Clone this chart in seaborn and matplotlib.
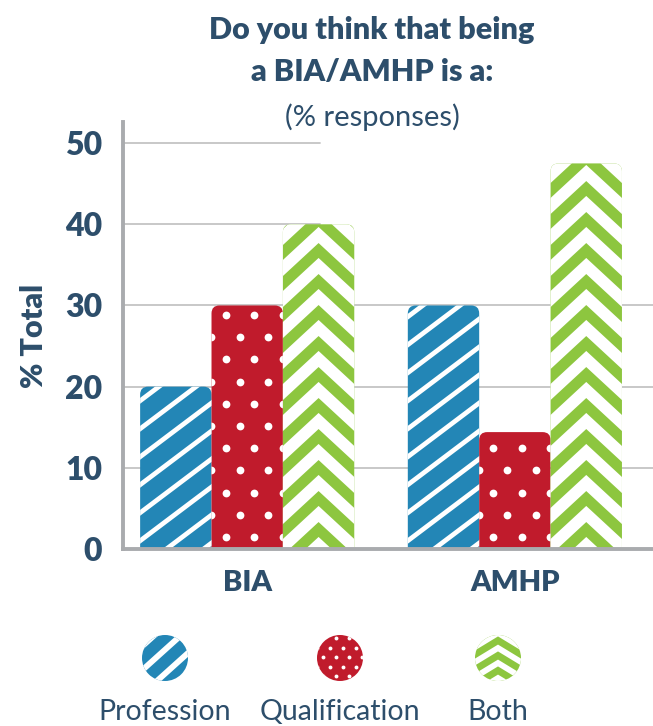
import numpy as np
import pandas as pd
import matplotlib
matplotlib.use('agg')
import matplotlib.pyplot as plt
import seaborn as sns
from matplotlib.collections import LineCollection
from matplotlib.lines import Line2D
from matplotlib.patches import PathPatch, Circle
from matplotlib.path import Path
from matplotlib.transforms import IdentityTransform

# data
roles = ['BIA', 'AMHP']
answers = ['Profession', 'Qualification', 'Both']
profession = [20, 30]
qualification = [30, 14.4]
both = [40, 47.5]
yticks = [0, 10, 20, 30, 40, 50]

colors = ['#2386b6', '#c01b2c', '#8dc63f']
txt = '#2d4e6b'
grid_c = '#c4c4c4'
spine_c = '#a9abae'

df = pd.DataFrame({
    'role': roles * 3,
    'answer': np.repeat(answers, len(roles)),
    'pct': profession + qualification + both,
})

sns.set_theme(style='white')
plt.rcParams['font.family'] = ['Lato', 'DejaVu Sans']

W, H = 653, 726
fig = plt.figure(figsize=(W / 100, H / 100), dpi=100)
ax = fig.add_axes([123 / W, 177 / H, 530 / W, 427 / H])

sns.barplot(data=df, x='role', y='pct', hue='answer', palette=colors,
            saturation=1, width=0.8, legend=False, ax=ax)
ax.set_xlim(-0.464, 1.516)
ax.set_ylim(0, 52.6)


# ---- texture helpers (work in display pixels) ----
def add_segs(a, clip, segs, lw):
    lc = LineCollection(segs, colors='white', linewidths=lw, capstyle='butt',
                        joinstyle='miter', transform=IdentityTransform(), zorder=3)
    lc.set_clip_path(clip)
    a.add_artist(lc)


def stripes(a, clip, x0, y0, x1, y1, period, angle, lw, phase=0):
    t = np.tan(np.radians(angle))
    w = x1 - x0
    segs = [[(x0 - 3, c - 3 * t), (x1 + 3, c + t * (w + 3))]
            for c in np.arange(y0 - t * w - period + phase, y1 + period, period)]
    add_segs(a, clip, segs, lw)


def dots(a, clip, x0, y0, x1, y1, dx, dy, ms, offx, offy):
    xs, ys = [], []
    for k, y in enumerate(np.arange(y0 + offy, y1 + dy, dy)):
        sh = 0 if k % 2 == 0 else dx / 2
        for x in np.arange(x0 + offx + sh - 2 * dx, x1 + dx, dx):
            xs.append(x)
            ys.append(y)
    ln = Line2D(xs, ys, ls='none', marker='o', ms=ms, mfc='white', mec='none',
                transform=IdentityTransform(), zorder=3)
    ln.set_clip_path(clip)
    a.add_artist(ln)


def chevrons(a, clip, x0, y0, x1, y1, period, rise, lw, phase=0):
    cx = (x0 + x1) / 2
    hw = (x1 - x0) / 2
    s = rise / hw
    ext = hw + 6
    segs = [[(cx - ext, ya - s * ext), (cx, ya), (cx + ext, ya - s * ext)]
            for ya in np.arange(y0 + phase - period, y1 + rise + period, period)]
    add_segs(a, clip, segs, lw)


# ---- rounded, textured bars ----
o = ax.transData.transform((0, 0))
sx = ax.transData.transform((1, 0))[0] - o[0]
sy = ax.transData.transform((0, 1))[1] - o[1]
r = 8
rx, ry = r / sx, r / sy

bars = list(ax.patches)
for i, bar in enumerate(bars):
    kind = i // len(roles)
    x, w, h = bar.get_x(), bar.get_width(), bar.get_height()
    verts = [(x, 0), (x, h - ry), (x, h), (x + rx, h), (x + w - rx, h),
             (x + w, h), (x + w, h - ry), (x + w, 0), (x, 0)]
    codes = [Path.MOVETO, Path.LINETO, Path.CURVE3, Path.CURVE3, Path.LINETO,
             Path.CURVE3, Path.CURVE3, Path.LINETO, Path.CLOSEPOLY]
    pp = PathPatch(Path(verts, codes), facecolor=bar.get_facecolor(),
                   edgecolor='none', zorder=2)
    ax.add_patch(pp)
    bar.set_visible(False)
    px0, py0 = ax.transData.transform((x, 0))
    px1, py1 = ax.transData.transform((x + w, h))
    if kind == 0:
        stripes(ax, pp, px0, py0, px1, py1, 28, 37, 3.4, phase=6)
    elif kind == 1:
        dots(ax, pp, px0, py0, px1, py1, 28.5, 22.2, 5.6, 14, 12)
    else:
        chevrons(ax, pp, px0, py0, px1, py1, 31, 33, 8.5, phase=4)

# grid lines (upper ones stop short, as in the original)
for v in yticks[1:]:
    ax.axhline(v, xmax=1 if v < 40 else 0.372, color=grid_c, lw=1.3, zorder=0)

sns.despine(ax=ax)
for side in ['left', 'bottom']:
    ax.spines[side].set_color(spine_c)
    ax.spines[side].set_linewidth(2.8)
    ax.spines[side].set_zorder(4)

ax.set_yticks(yticks)
ax.tick_params(axis='y', length=0, labelsize=23, labelcolor=txt, pad=15)
ax.tick_params(axis='x', length=0, labelsize=21, labelcolor=txt, pad=15)
for lab in ax.get_xticklabels() + ax.get_yticklabels():
    lab.set_fontweight('heavy')
ax.set_xlabel('')
ax.set_ylabel('% Total', fontsize=22, fontweight='heavy', color=txt, labelpad=12)

# titles
fig.text(372 / W, 1 - 30 / H, 'Do you think that being', ha='center', va='center',
         fontsize=22, fontweight='heavy', color=txt)
fig.text(372 / W, 1 - 72 / H, 'a BIA/AMHP is a:', ha='center', va='center',
         fontsize=22, fontweight='heavy', color=txt)
fig.text(372 / W, 1 - 117 / H, '(% responses)', ha='center', va='center',
         fontsize=21, fontweight='normal', color=txt)

# legend with textured circles
legend_x = [165, 340, 498]
lax = fig.add_axes([0, 0, 1, 100 / H])
lax.set_xlim(0, W)
lax.set_ylim(0, 100)
lax.set_aspect('equal')
lax.axis('off')
cr = 23
for i, name in enumerate(answers):
    cx, cy = legend_x[i], 68
    circ = Circle((cx, cy), cr, facecolor=colors[i], edgecolor='none', zorder=2)
    lax.add_patch(circ)
    px, py = lax.transData.transform((cx, cy))
    b = (px - cr, py - cr, px + cr, py + cr)
    if i == 0:
        stripes(lax, circ, *b, 24, 42, 4.2, phase=4)
    elif i == 1:
        dots(lax, circ, *b, 13, 9.5, 2.8, 6, 5)
    else:
        chevrons(lax, circ, *b, 15, 14, 4.2, phase=3)
    fig.text(cx / W, 1 / H, name, ha='center', va='bottom', fontsize=20.5,
             fontweight='normal', color=txt)

fig.savefig('out.png', dpi=100)
plt.close()
